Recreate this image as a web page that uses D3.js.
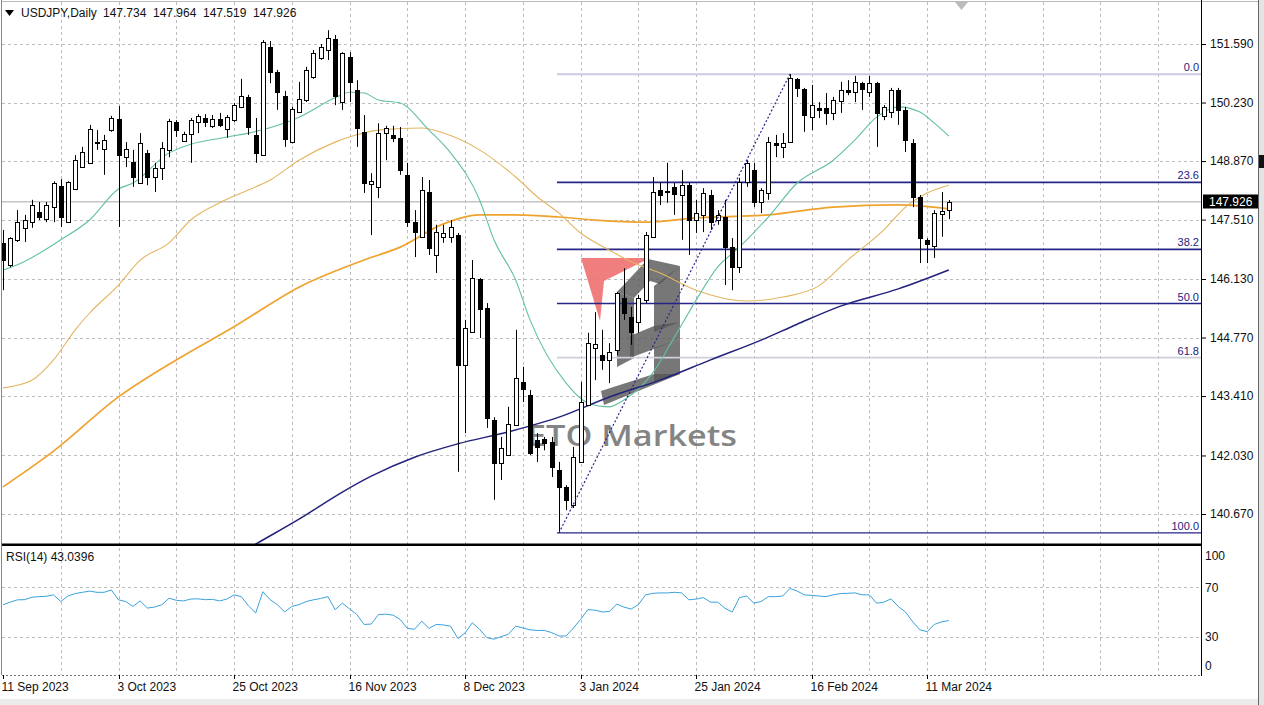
<!DOCTYPE html>
<html><head><meta charset="utf-8">
<script src="https://cdn.jsdelivr.net/npm/d3@7"></script>
<style>
html,body{margin:0;padding:0;background:#fff;overflow:hidden}
svg{display:block;font-family:"Liberation Sans",Arial,sans-serif}
</style></head><body>
<svg id="c" width="1264" height="705"></svg>
<script>
// ---------- DATA ----------
const symbol = "USDJPY,Daily";
const lastOHLC = ["147.734","147.964","147.519","147.926"];
const opens = [146.97,146.46,147.04,147.31,147.45,147.69,147.52,147.80,148.29,147.45,148.22,148.73,148.83,149.31,149.15,149.59,149.85,148.96,148.85,148.36,149.06,148.50,148.71,149.13,149.78,149.34,149.50,149.78,149.87,149.69,149.85,149.62,149.82,150.13,150.36,149.48,149.01,151.52,150.94,150.38,149.31,150.01,150.29,150.82,151.26,151.45,151.71,150.24,151.29,150.52,149.55,148.34,148.27,149.52,149.48,149.41,148.55,147.45,147.11,148.15,146.69,147.11,147.11,147.15,144.13,144.90,146.13,145.46,142.85,141.85,142.04,142.74,143.74,143.44,142.39,142.41,142.34,141.69,141.30,140.88,141.88,143.20,144.53,144.36,144.25,144.48,145.69,145.25,145.13,145.64,147.11,148.20,148.18,148.27,148.08,148.31,147.50,147.62,148.08,147.50,147.57,146.87,146.41,148.38,148.66,147.92,148.13,149.29,149.20,149.31,150.78,150.54,149.89,150.10,150.10,149.99,150.26,150.52,150.47,150.68,150.47,150.68,149.92,150.01,150.52,150.06,149.29,148.03,147.04,146.90,147.66,147.734];
const highs = [147.27,147.10,147.73,147.62,147.97,147.92,147.92,148.40,148.45,148.40,149.01,149.20,149.71,149.59,149.48,149.92,150.15,149.31,149.13,149.52,149.13,148.83,149.31,149.85,149.82,149.55,149.87,149.96,149.96,149.94,149.99,149.94,150.22,150.78,150.41,149.87,151.68,151.66,150.99,150.50,150.13,150.71,151.06,151.45,151.59,151.91,151.80,151.40,151.40,150.75,149.94,148.59,149.75,149.69,149.69,149.66,148.83,147.73,148.50,148.43,147.39,147.39,147.50,147.20,145.18,146.57,146.15,145.57,142.92,142.46,143.16,144.95,144.09,143.55,142.55,142.46,142.46,141.88,141.34,142.23,143.74,144.88,145.36,144.95,144.64,145.83,146.38,145.48,145.76,147.22,148.50,148.38,148.83,148.36,148.66,148.38,147.97,148.24,148.20,147.73,147.97,147.08,148.48,148.89,148.83,148.24,149.43,149.48,149.52,150.89,150.80,150.57,150.64,150.24,150.45,150.36,150.71,150.75,150.85,150.71,150.85,150.71,150.17,150.57,150.57,150.13,149.38,148.08,147.08,147.73,148.15,147.964];
const lows = [145.87,146.40,146.99,146.99,147.32,147.50,147.45,147.45,147.34,147.43,148.20,148.71,148.83,149.13,148.55,149.55,147.34,148.73,148.27,148.36,148.31,148.15,148.43,148.96,149.43,149.34,148.83,149.52,149.66,149.64,149.66,149.41,149.78,150.10,149.48,148.83,149.00,150.68,150.06,149.20,149.28,149.99,150.24,150.78,151.22,151.22,150.17,150.06,150.24,149.20,148.13,147.15,148.01,148.89,149.31,148.55,147.34,146.64,147.10,146.69,146.27,146.97,146.97,141.65,142.55,144.88,144.76,142.67,141.00,141.46,142.04,142.74,143.27,142.04,141.88,142.15,141.53,140.23,140.76,140.81,141.88,143.20,143.78,144.02,143.71,144.36,145.18,144.60,144.88,145.57,147.10,147.85,147.90,147.62,147.04,146.69,147.20,147.22,147.27,147.39,145.99,145.87,146.27,148.27,147.80,147.66,147.97,148.96,148.94,149.29,150.36,149.55,149.59,149.87,149.71,149.82,149.99,150.40,150.24,150.06,150.36,149.20,149.82,149.87,149.71,149.08,147.80,146.50,146.50,146.62,147.11,147.519];
const closes = [146.57,147.08,147.45,147.50,147.85,147.57,147.85,148.36,147.57,148.38,148.89,149.08,149.62,149.28,149.36,149.87,149.01,149.15,148.50,149.29,148.50,148.71,149.17,149.80,149.59,149.50,149.82,149.92,149.78,149.85,149.71,149.89,150.17,150.38,149.66,149.06,151.64,150.94,150.47,149.38,150.08,150.31,150.99,151.38,151.52,151.73,150.38,151.38,150.71,149.64,148.36,148.41,149.52,149.64,149.41,148.66,147.45,147.22,148.20,146.85,147.22,147.20,147.34,144.13,144.99,146.15,145.43,142.90,141.85,142.20,142.76,143.83,143.57,142.09,142.23,142.32,141.76,141.30,141.00,141.99,143.27,144.64,144.62,144.25,144.43,145.81,145.34,144.90,145.69,147.15,148.15,148.08,148.15,148.10,148.31,147.50,147.66,148.13,147.45,147.62,146.87,146.41,148.38,148.83,147.92,148.20,149.31,149.24,149.29,150.80,150.57,149.94,150.17,150.06,149.99,150.29,150.52,150.47,150.71,150.54,150.68,149.99,150.13,150.52,150.06,149.36,148.03,147.08,146.94,147.66,147.72,147.926];

// moving averages: [bar index, price]
const maFast = [[0,146.34],[2,146.46],[8,147.04],[12,147.50],[16,148.22],[18,148.36],[23,149.06],[31,149.43],[34,149.52],[41,149.89],[46,150.34],[48,150.47],[50,150.45],[52,150.29],[55,150.22],[59,149.59],[62,149.06],[66,147.97],[68,147.04],[71,146.11],[73,145.18],[78,143.71],[81,143.25],[84,143.16],[86,143.32],[90,143.95],[93,144.78],[96,145.64],[99,146.41],[102,146.87],[106,147.57],[110,148.36],[115,148.89],[118,149.36],[121,149.89],[124,150.13],[127,150.01],[129,149.75],[131,149.45]];
const maMid = [[0,143.60],[4,143.78],[7,144.25],[10,144.95],[12,145.34],[16,145.99],[19,146.57],[23,146.97],[26,147.50],[30,147.90],[33,148.13],[37,148.43],[41,148.89],[46,149.31],[49,149.48],[52,149.59],[58,149.64],[61,149.52],[66,149.13],[71,148.50],[74,148.04],[77,147.66],[80,147.20],[84,146.80],[87,146.53],[91,146.27],[96,145.87],[103,145.62],[108,145.71],[113,145.97],[117,146.57],[122,147.27],[125,147.80],[128,148.13],[131,148.31]];
const maSlow = [[0,141.30],[7,142.13],[16,143.39],[24,144.25],[32,145.02],[41,145.94],[50,146.57],[55,146.87],[61,147.41],[66,147.62],[71,147.62],[77,147.57],[82,147.50],[89,147.45],[96,147.55],[106,147.62],[115,147.80],[124,147.85],[131,147.76]];
const maLong = [[29,139.37],[35,139.97],[41,140.55],[47,141.18],[51,141.55],[57,141.99],[63,142.30],[70,142.58],[77,142.92],[84,143.39],[91,143.78],[98,144.25],[105,144.71],[110,145.08],[116,145.50],[124,145.90],[131,146.34]];

const rsi = [55.9,58,59.9,60,62,62.5,62.8,63.9,58.5,63,65,66,67,66,66,67.9,59.9,58.5,54.5,59,53.2,54,55.9,61.2,59.5,59,60.5,60.7,60,60.3,59,60.5,63.9,62.5,55,49.2,66.5,60,56,50,54.5,56,58.5,59.9,61,62.5,51.9,57.2,52.5,48,39.9,40.2,47.9,48.2,47.5,44,36.7,36,42.5,36.7,39.9,39.5,38.5,28.4,33,41.2,35.9,29.2,27.9,30,31.9,38.5,37,35.5,35,35,33.2,30.5,30.5,37,43.9,51.9,51.5,50,50.5,56.4,54,52.4,56,63.9,65.2,65.5,65.5,66,65.5,59.9,60.5,61.7,58,58,53,50,61.7,63,57.2,58.5,62.5,62.5,63,69.2,67,63.9,63.5,63,62.5,64,65,65.2,65.5,64,63.9,57.2,58,60.7,54.5,50,42,35.5,34,39.9,42,43.04];
const rsiLabel = "RSI(14) 43.0396";

const priceTicks = [151.59,150.23,148.87,147.51,146.13,144.77,143.41,142.03,140.67];
const rsiTicks = [100,70,30,0];
const dateTickIdx = [0,16,32,48,64,80,96,112,128];
const dateTickLabels = ["11 Sep 2023","3 Oct 2023","25 Oct 2023","16 Nov 2023","8 Dec 2023","3 Jan 2024","25 Jan 2024","16 Feb 2024","11 Mar 2024"];

const fibHighIdx = 109, fibLowIdx = 77;
const fibHigh = 150.89, fibLow = 140.23;
const fibLevels = [0, 23.6, 38.2, 50.0, 61.8, 100.0];
const bid = 147.926;

// ---------- LAYOUT ----------
const svg = d3.select('#c');
const L = 2, R = 1201, T = 2, MB = 544, B = 675;
const x = d3.scaleLinear().domain([0, 131]).range([3, 3 + 7.22 * 131]);
const y = d3.scaleLinear().domain([140.67, 151.59]).range([514, 44]);
const ry = d3.scaleLinear().domain([0, 100]).range([673.5, 550.5]);
const px = i => Math.round(x(i)) + 0.5;

svg.append('rect').attr('width',1264).attr('height',705).attr('fill','#fff');
const defs = svg.append('defs');
defs.append('clipPath').attr('id','mainClip').append('rect').attr('x',L).attr('y',T).attr('width',R-L).attr('height',MB-T);
defs.append('clipPath').attr('id','rsiClip').append('rect').attr('x',L).attr('y',MB+2).attr('width',R-L).attr('height',B-MB-2);

// ---------- GRID ----------
const grid = svg.append('g').attr('stroke','#bdbdbd').attr('stroke-dasharray','3,3').attr('stroke-width',1);
const gridIdx = d3.range(8, 168, 8);
grid.selectAll('line.v').data(gridIdx).join('line')
  .attr('x1',d=>px(d)).attr('x2',d=>px(d)).attr('y1',T).attr('y2',B);
grid.selectAll('line.h').data(priceTicks).join('line')
  .attr('x1',L).attr('x2',R).attr('y1',d=>Math.round(y(d))+0.5).attr('y2',d=>Math.round(y(d))+0.5);
grid.selectAll('line.r').data([70,30]).join('line')
  .attr('x1',L).attr('x2',R).attr('y1',d=>Math.round(ry(d))+0.5).attr('y2',d=>Math.round(ry(d))+0.5);

// ---------- WATERMARK ----------
const wm = svg.append('g').attr('clip-path','url(#mainClip)');
wm.append('polygon').attr('points','581,258 650,258 604,281 600,321').attr('fill','#f07070').attr('opacity',0.9);
const gpolys = [
  '617,292 648,259 680,266 660,284 650,281 634,298',
  '654,286 680,266 680,322 654,332',
  '630,336 654,326 680,322 680,339 630,358',
  '654,348 680,339 680,374 654,382',
  '601,391 654,374 680,374 604,405',
  '617,292 634,298 634,358 617,367'
];
wm.selectAll('polygon.g').data(gpolys).join('polygon').attr('points',d=>d).attr('fill','#555').attr('opacity',0.8);
wm.append('text').attr('x',527).attr('y',446).attr('textLength',210).attr('lengthAdjust','spacingAndGlyphs')
  .attr('font-family','"Open Sans",Lato,sans-serif').attr('font-weight',600).attr('font-size',29)
  .attr('fill','#777').attr('opacity',0.9).text('ETO Markets');

// ---------- BID LINE & FIBONACCI ----------
const main = svg.append('g').attr('clip-path','url(#mainClip)');
main.append('line').attr('x1',L).attr('x2',R).attr('y1',y(bid)).attr('y2',y(bid)).attr('stroke','#c4c4c4').attr('stroke-width',1.5);
const fibStart = x(fibLowIdx) - 2;
const fibPrice = l => fibHigh - l / 100 * (fibHigh - fibLow);
const fibColor = l => (l === 0 ? '#cacae4' : l === 61.8 ? '#cfcfdc' : '#262688');
const fibWidth = l => (l === 0 ? 2 : l === 100 ? 1.2 : 1.6);
main.selectAll('line.fib').data(fibLevels).join('line')
  .attr('x1',fibStart).attr('x2',R).attr('y1',d=>y(fibPrice(d))).attr('y2',d=>y(fibPrice(d)))
  .attr('stroke',fibColor).attr('stroke-width',fibWidth);

// ---------- MOVING AVERAGES ----------
const ma = d3.line().x(d=>x(d[0])).y(d=>y(d[1])).curve(d3.curveMonotoneX);
main.append('path').attr('d',ma(maSlow)).attr('fill','none').attr('stroke','#f0a22e').attr('stroke-width',1.7);
main.append('path').attr('d',ma(maMid)).attr('fill','none').attr('stroke','#e3b560').attr('stroke-width',1.1);
main.append('path').attr('d',ma(maFast)).attr('fill','none').attr('stroke','#62bfa5').attr('stroke-width',1.1);
main.append('path').attr('d',ma(maLong)).attr('fill','none').attr('stroke','#22227c').attr('stroke-width',1.5);

// ---------- CANDLES ----------
const idx = d3.range(opens.length);
const cg = main.append('g');
cg.selectAll('line.w').data(idx).join('line')
  .attr('x1',px).attr('x2',px).attr('y1',i=>y(highs[i])).attr('y2',i=>y(lows[i]))
  .attr('stroke','#000').attr('stroke-width',1);
cg.selectAll('rect.b').data(idx).join('rect')
  .attr('x',i=>px(i)-2).attr('width',4)
  .attr('y',i=>Math.round(y(Math.max(opens[i],closes[i])))+0.5)
  .attr('height',i=>Math.max(1, Math.round(Math.abs(y(opens[i])-y(closes[i])))))
  .attr('fill',i=>closes[i] >= opens[i] ? '#fff' : '#000')
  .attr('stroke','#000').attr('stroke-width',1);

// fib trend line
main.append('line').attr('x1',x(fibLowIdx)).attr('y1',y(fibLow)).attr('x2',x(fibHighIdx)).attr('y2',y(fibHigh))
  .attr('stroke','#26268a').attr('stroke-width',1.2).attr('stroke-dasharray','2,2');

// fib labels
svg.selectAll('text.fib').data(fibLevels).join('text')
  .attr('x',1199).attr('y',d=>y(fibPrice(d))-3).attr('text-anchor','end')
  .attr('font-size',11).attr('fill','#22227c').text(d=>d.toFixed(1));

// ---------- RSI ----------
const rl = d3.line().x((d,i)=>x(i)).y(d=>ry(d));
svg.append('path').attr('clip-path','url(#rsiClip)').attr('d',rl(rsi)).attr('fill','none').attr('stroke','#3aa2dc').attr('stroke-width',1);
svg.append('text').attr('x',6).attr('y',561).attr('font-size',12).attr('fill','#111').text(rsiLabel);

// ---------- FRAME ----------
svg.append('line').attr('x1',1.5).attr('x2',1.5).attr('y1',0).attr('y2',B).attr('stroke','#888');
svg.append('line').attr('x1',L).attr('x2',1258).attr('y1',1.5).attr('y2',1.5).attr('stroke','#bbb');
svg.append('line').attr('x1',R+0.5).attr('x2',R+0.5).attr('y1',0).attr('y2',B+1).attr('stroke','#000');
svg.append('rect').attr('x',L).attr('y',MB-0.5).attr('width',R-L+1).attr('height',2.5).attr('fill','#000');
svg.append('line').attr('x1',L).attr('x2',R).attr('y1',B+0.5).attr('y2',B+0.5).attr('stroke','#777').attr('stroke-dasharray','2,2');

// ---------- AXES ----------
const ya = svg.append('g').attr('transform',`translate(${R+1},0)`)
  .call(d3.axisRight(y).tickValues(priceTicks).tickSize(4).tickPadding(4).tickFormat(d=>d.toFixed(3)));
ya.select('.domain').remove();
ya.selectAll('text').attr('font-size',12).attr('font-family','"Liberation Sans",Arial,sans-serif').attr('fill','#111');
ya.selectAll('line').attr('stroke','#000');

const ra = svg.append('g').attr('transform',`translate(${R+1},0)`)
  .call(d3.axisRight(ry).tickValues(rsiTicks).tickSize(0).tickPadding(3));
ra.select('.domain').remove();
ra.selectAll('text').attr('font-size',12).attr('font-family','"Liberation Sans",Arial,sans-serif').attr('fill','#111')
  .attr('dy',d=>d===100 ? '0.75em' : d===0 ? '-0.3em' : '0.32em');

const xa = svg.append('g').attr('transform',`translate(0,${B})`)
  .call(d3.axisBottom(x).tickValues(dateTickIdx).tickSize(4).tickPadding(3).tickFormat((d,i)=>dateTickLabels[i]));
xa.select('.domain').remove();
xa.selectAll('.tick').attr('transform',d=>`translate(${px(d)},0)`);
xa.selectAll('text').attr('font-size',12).attr('font-family','"Liberation Sans",Arial,sans-serif').attr('fill','#111')
  .attr('text-anchor','start').attr('x',-2);
xa.selectAll('line').attr('stroke','#000');

// bid label
svg.append('rect').attr('x',1203).attr('y',194.5).attr('width',55).attr('height',14).attr('fill','#000');
svg.append('text').attr('x',1209).attr('y',y(bid)+4.5).attr('font-size',12).attr('fill','#fff').text(bid.toFixed(3));

// ---------- HEADER ----------
svg.append('polygon').attr('points','5,10 14,10 9.5,16').attr('fill','#000');
svg.append('text').attr('x',21).attr('y',17).attr('font-size',12).attr('fill','#111').text(symbol);
svg.selectAll('text.ohlc').data(lastOHLC).join('text')
  .attr('x',(d,i)=>103+i*50).attr('y',17).attr('font-size',12).attr('fill','#111').text(d=>d);

// window chrome
svg.append('polygon').attr('points','955,2 968,2 961.5,10').attr('fill','#bbb');
svg.append('rect').attr('x',1258).attr('y',0).attr('width',6).attr('height',705).attr('fill','#e4e4e4');
svg.append('line').attr('x1',1258.5).attr('x2',1258.5).attr('y1',0).attr('y2',705).attr('stroke','#666');
svg.append('rect').attr('x',1259).attr('y',155).attr('width',5).attr('height',13).attr('fill','#111');
svg.append('rect').attr('x',0).attr('y',699).attr('width',1258).attr('height',6).attr('fill','#ececec');
</script>
</body></html>
